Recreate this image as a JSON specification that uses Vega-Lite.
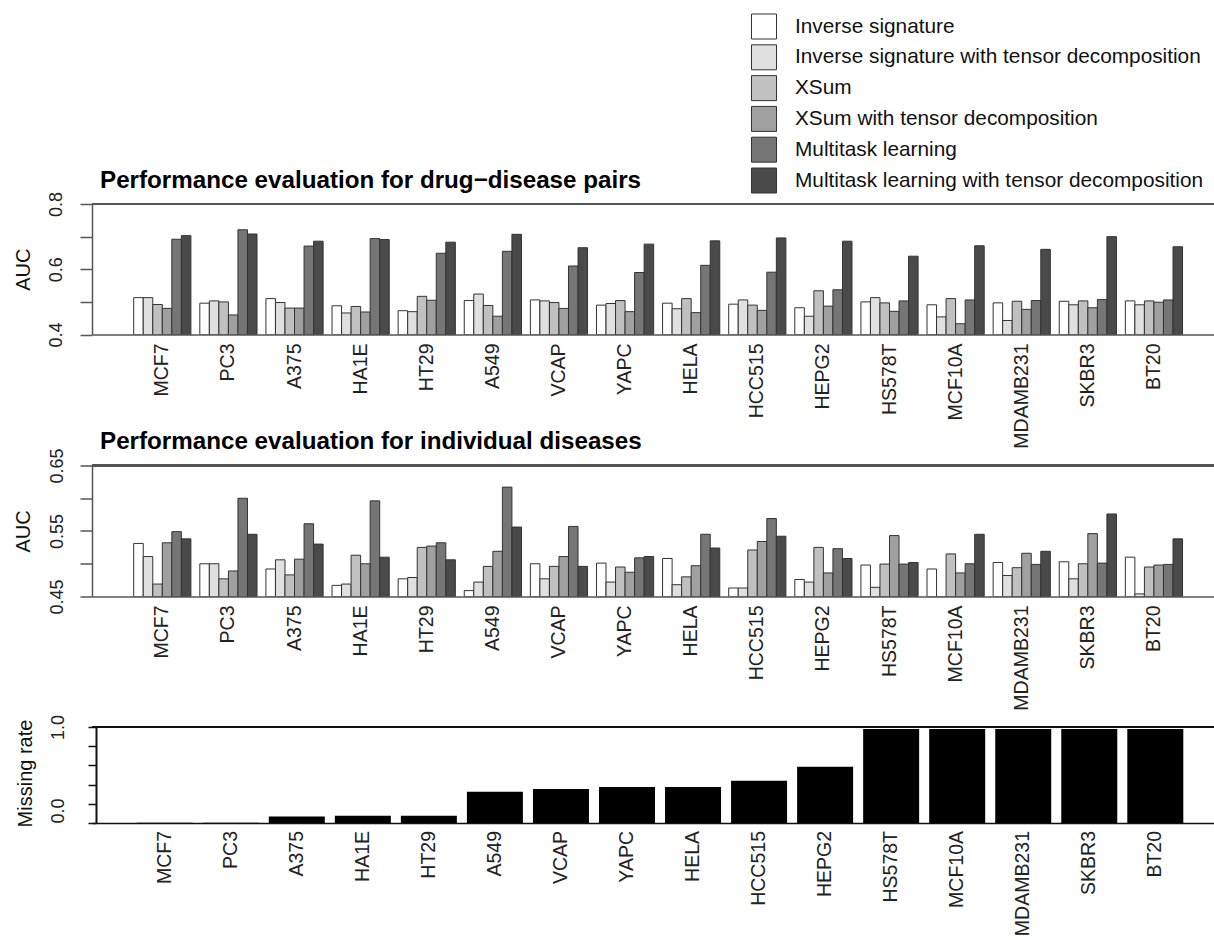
{
"$schema": "https://vega.github.io/schema/vega-lite/v6.json",
"padding": {"left": 13, "top": 13, "right": 0, "bottom": 0},
"bounds": "flush",
"spacing": 130.5,
"config": {"view": {"stroke": null}, "font": "Liberation Sans",
 "legend": {"orient": "none", "legendX": 659, "legendY": -190.5, "symbolType": "square", "symbolSize": 625, "symbolStrokeColor": "#333", "symbolStrokeWidth": 1, "symbolOpacity": 1, "labelFontSize": 20.8, "labelColor": "#111", "labelOffset": 18, "rowPadding": 0.8, "labelLimit": 0, "padding": 0}},
"resolve": {"scale": {"x": "independent", "y": "independent", "xOffset": "independent"}},
"datasets": {
"pairs": [
{"cell":"MCF7","method":"Inverse signature","auc":0.513},{"cell":"MCF7","method":"Inverse signature with tensor decomposition","auc":0.513},{"cell":"MCF7","method":"XSum","auc":0.492},{"cell":"MCF7","method":"XSum with tensor decomposition","auc":0.480},{"cell":"MCF7","method":"Multitask learning","auc":0.692},{"cell":"MCF7","method":"Multitask learning with tensor decomposition","auc":0.703},
{"cell":"PC3","method":"Inverse signature","auc":0.496},{"cell":"PC3","method":"Inverse signature with tensor decomposition","auc":0.503},{"cell":"PC3","method":"XSum","auc":0.500},{"cell":"PC3","method":"XSum with tensor decomposition","auc":0.460},{"cell":"PC3","method":"Multitask learning","auc":0.721},{"cell":"PC3","method":"Multitask learning with tensor decomposition","auc":0.708},
{"cell":"A375","method":"Inverse signature","auc":0.510},{"cell":"A375","method":"Inverse signature with tensor decomposition","auc":0.498},{"cell":"A375","method":"XSum","auc":0.481},{"cell":"A375","method":"XSum with tensor decomposition","auc":0.481},{"cell":"A375","method":"Multitask learning","auc":0.671},{"cell":"A375","method":"Multitask learning with tensor decomposition","auc":0.686},
{"cell":"HA1E","method":"Inverse signature","auc":0.488},{"cell":"HA1E","method":"Inverse signature with tensor decomposition","auc":0.466},{"cell":"HA1E","method":"XSum","auc":0.486},{"cell":"HA1E","method":"XSum with tensor decomposition","auc":0.469},{"cell":"HA1E","method":"Multitask learning","auc":0.694},{"cell":"HA1E","method":"Multitask learning with tensor decomposition","auc":0.691},
{"cell":"HT29","method":"Inverse signature","auc":0.473},{"cell":"HT29","method":"Inverse signature with tensor decomposition","auc":0.470},{"cell":"HT29","method":"XSum","auc":0.517},{"cell":"HT29","method":"XSum with tensor decomposition","auc":0.505},{"cell":"HT29","method":"Multitask learning","auc":0.649},{"cell":"HT29","method":"Multitask learning with tensor decomposition","auc":0.683},
{"cell":"A549","method":"Inverse signature","auc":0.504},{"cell":"A549","method":"Inverse signature with tensor decomposition","auc":0.524},{"cell":"A549","method":"XSum","auc":0.489},{"cell":"A549","method":"XSum with tensor decomposition","auc":0.456},{"cell":"A549","method":"Multitask learning","auc":0.655},{"cell":"A549","method":"Multitask learning with tensor decomposition","auc":0.707},
{"cell":"VCAP","method":"Inverse signature","auc":0.506},{"cell":"VCAP","method":"Inverse signature with tensor decomposition","auc":0.503},{"cell":"VCAP","method":"XSum","auc":0.498},{"cell":"VCAP","method":"XSum with tensor decomposition","auc":0.480},{"cell":"VCAP","method":"Multitask learning","auc":0.610},{"cell":"VCAP","method":"Multitask learning with tensor decomposition","auc":0.666},
{"cell":"YAPC","method":"Inverse signature","auc":0.490},{"cell":"YAPC","method":"Inverse signature with tensor decomposition","auc":0.495},{"cell":"YAPC","method":"XSum","auc":0.504},{"cell":"YAPC","method":"XSum with tensor decomposition","auc":0.470},{"cell":"YAPC","method":"Multitask learning","auc":0.590},{"cell":"YAPC","method":"Multitask learning with tensor decomposition","auc":0.677},
{"cell":"HELA","method":"Inverse signature","auc":0.496},{"cell":"HELA","method":"Inverse signature with tensor decomposition","auc":0.479},{"cell":"HELA","method":"XSum","auc":0.510},{"cell":"HELA","method":"XSum with tensor decomposition","auc":0.467},{"cell":"HELA","method":"Multitask learning","auc":0.612},{"cell":"HELA","method":"Multitask learning with tensor decomposition","auc":0.687},
{"cell":"HCC515","method":"Inverse signature","auc":0.493},{"cell":"HCC515","method":"Inverse signature with tensor decomposition","auc":0.506},{"cell":"HCC515","method":"XSum","auc":0.490},{"cell":"HCC515","method":"XSum with tensor decomposition","auc":0.474},{"cell":"HCC515","method":"Multitask learning","auc":0.591},{"cell":"HCC515","method":"Multitask learning with tensor decomposition","auc":0.696},
{"cell":"HEPG2","method":"Inverse signature","auc":0.482},{"cell":"HEPG2","method":"Inverse signature with tensor decomposition","auc":0.456},{"cell":"HEPG2","method":"XSum","auc":0.534},{"cell":"HEPG2","method":"XSum with tensor decomposition","auc":0.487},{"cell":"HEPG2","method":"Multitask learning","auc":0.537},{"cell":"HEPG2","method":"Multitask learning with tensor decomposition","auc":0.686},
{"cell":"HS578T","method":"Inverse signature","auc":0.500},{"cell":"HS578T","method":"Inverse signature with tensor decomposition","auc":0.513},{"cell":"HS578T","method":"XSum","auc":0.497},{"cell":"HS578T","method":"XSum with tensor decomposition","auc":0.471},{"cell":"HS578T","method":"Multitask learning","auc":0.503},{"cell":"HS578T","method":"Multitask learning with tensor decomposition","auc":0.640},
{"cell":"MCF10A","method":"Inverse signature","auc":0.491},{"cell":"MCF10A","method":"Inverse signature with tensor decomposition","auc":0.454},{"cell":"MCF10A","method":"XSum","auc":0.510},{"cell":"MCF10A","method":"XSum with tensor decomposition","auc":0.433},{"cell":"MCF10A","method":"Multitask learning","auc":0.506},{"cell":"MCF10A","method":"Multitask learning with tensor decomposition","auc":0.672},
{"cell":"MDAMB231","method":"Inverse signature","auc":0.497},{"cell":"MDAMB231","method":"Inverse signature with tensor decomposition","auc":0.443},{"cell":"MDAMB231","method":"XSum","auc":0.502},{"cell":"MDAMB231","method":"XSum with tensor decomposition","auc":0.477},{"cell":"MDAMB231","method":"Multitask learning","auc":0.504},{"cell":"MDAMB231","method":"Multitask learning with tensor decomposition","auc":0.661},
{"cell":"SKBR3","method":"Inverse signature","auc":0.502},{"cell":"SKBR3","method":"Inverse signature with tensor decomposition","auc":0.491},{"cell":"SKBR3","method":"XSum","auc":0.503},{"cell":"SKBR3","method":"XSum with tensor decomposition","auc":0.482},{"cell":"SKBR3","method":"Multitask learning","auc":0.507},{"cell":"SKBR3","method":"Multitask learning with tensor decomposition","auc":0.700},
{"cell":"BT20","method":"Inverse signature","auc":0.503},{"cell":"BT20","method":"Inverse signature with tensor decomposition","auc":0.491},{"cell":"BT20","method":"XSum","auc":0.503},{"cell":"BT20","method":"XSum with tensor decomposition","auc":0.499},{"cell":"BT20","method":"Multitask learning","auc":0.506},{"cell":"BT20","method":"Multitask learning with tensor decomposition","auc":0.669}
],
"diseases": [
{"cell":"MCF7","method":"Inverse signature","auc":0.531},{"cell":"MCF7","method":"Inverse signature with tensor decomposition","auc":0.511},{"cell":"MCF7","method":"XSum","auc":0.469},{"cell":"MCF7","method":"XSum with tensor decomposition","auc":0.532},{"cell":"MCF7","method":"Multitask learning","auc":0.549},{"cell":"MCF7","method":"Multitask learning with tensor decomposition","auc":0.538},
{"cell":"PC3","method":"Inverse signature","auc":0.500},{"cell":"PC3","method":"Inverse signature with tensor decomposition","auc":0.500},{"cell":"PC3","method":"XSum","auc":0.477},{"cell":"PC3","method":"XSum with tensor decomposition","auc":0.489},{"cell":"PC3","method":"Multitask learning","auc":0.600},{"cell":"PC3","method":"Multitask learning with tensor decomposition","auc":0.545},
{"cell":"A375","method":"Inverse signature","auc":0.492},{"cell":"A375","method":"Inverse signature with tensor decomposition","auc":0.506},{"cell":"A375","method":"XSum","auc":0.483},{"cell":"A375","method":"XSum with tensor decomposition","auc":0.507},{"cell":"A375","method":"Multitask learning","auc":0.561},{"cell":"A375","method":"Multitask learning with tensor decomposition","auc":0.530},
{"cell":"HA1E","method":"Inverse signature","auc":0.467},{"cell":"HA1E","method":"Inverse signature with tensor decomposition","auc":0.469},{"cell":"HA1E","method":"XSum","auc":0.513},{"cell":"HA1E","method":"XSum with tensor decomposition","auc":0.500},{"cell":"HA1E","method":"Multitask learning","auc":0.596},{"cell":"HA1E","method":"Multitask learning with tensor decomposition","auc":0.510},
{"cell":"HT29","method":"Inverse signature","auc":0.477},{"cell":"HT29","method":"Inverse signature with tensor decomposition","auc":0.479},{"cell":"HT29","method":"XSum","auc":0.525},{"cell":"HT29","method":"XSum with tensor decomposition","auc":0.527},{"cell":"HT29","method":"Multitask learning","auc":0.532},{"cell":"HT29","method":"Multitask learning with tensor decomposition","auc":0.506},
{"cell":"A549","method":"Inverse signature","auc":0.459},{"cell":"A549","method":"Inverse signature with tensor decomposition","auc":0.472},{"cell":"A549","method":"XSum","auc":0.496},{"cell":"A549","method":"XSum with tensor decomposition","auc":0.519},{"cell":"A549","method":"Multitask learning","auc":0.617},{"cell":"A549","method":"Multitask learning with tensor decomposition","auc":0.556},
{"cell":"VCAP","method":"Inverse signature","auc":0.500},{"cell":"VCAP","method":"Inverse signature with tensor decomposition","auc":0.477},{"cell":"VCAP","method":"XSum","auc":0.496},{"cell":"VCAP","method":"XSum with tensor decomposition","auc":0.511},{"cell":"VCAP","method":"Multitask learning","auc":0.557},{"cell":"VCAP","method":"Multitask learning with tensor decomposition","auc":0.496},
{"cell":"YAPC","method":"Inverse signature","auc":0.501},{"cell":"YAPC","method":"Inverse signature with tensor decomposition","auc":0.472},{"cell":"YAPC","method":"XSum","auc":0.495},{"cell":"YAPC","method":"XSum with tensor decomposition","auc":0.487},{"cell":"YAPC","method":"Multitask learning","auc":0.509},{"cell":"YAPC","method":"Multitask learning with tensor decomposition","auc":0.511},
{"cell":"HELA","method":"Inverse signature","auc":0.508},{"cell":"HELA","method":"Inverse signature with tensor decomposition","auc":0.468},{"cell":"HELA","method":"XSum","auc":0.480},{"cell":"HELA","method":"XSum with tensor decomposition","auc":0.497},{"cell":"HELA","method":"Multitask learning","auc":0.545},{"cell":"HELA","method":"Multitask learning with tensor decomposition","auc":0.524},
{"cell":"HCC515","method":"Inverse signature","auc":0.463},{"cell":"HCC515","method":"Inverse signature with tensor decomposition","auc":0.463},{"cell":"HCC515","method":"XSum","auc":0.521},{"cell":"HCC515","method":"XSum with tensor decomposition","auc":0.534},{"cell":"HCC515","method":"Multitask learning","auc":0.569},{"cell":"HCC515","method":"Multitask learning with tensor decomposition","auc":0.542},
{"cell":"HEPG2","method":"Inverse signature","auc":0.476},{"cell":"HEPG2","method":"Inverse signature with tensor decomposition","auc":0.472},{"cell":"HEPG2","method":"XSum","auc":0.525},{"cell":"HEPG2","method":"XSum with tensor decomposition","auc":0.486},{"cell":"HEPG2","method":"Multitask learning","auc":0.523},{"cell":"HEPG2","method":"Multitask learning with tensor decomposition","auc":0.508},
{"cell":"HS578T","method":"Inverse signature","auc":0.498},{"cell":"HS578T","method":"Inverse signature with tensor decomposition","auc":0.464},{"cell":"HS578T","method":"XSum","auc":0.4995},{"cell":"HS578T","method":"XSum with tensor decomposition","auc":0.543},{"cell":"HS578T","method":"Multitask learning","auc":0.4995},{"cell":"HS578T","method":"Multitask learning with tensor decomposition","auc":0.502},
{"cell":"MCF10A","method":"Inverse signature","auc":0.492},{"cell":"MCF10A","method":"Inverse signature with tensor decomposition","auc":0.445},{"cell":"MCF10A","method":"XSum","auc":0.515},{"cell":"MCF10A","method":"XSum with tensor decomposition","auc":0.486},{"cell":"MCF10A","method":"Multitask learning","auc":0.500},{"cell":"MCF10A","method":"Multitask learning with tensor decomposition","auc":0.545},
{"cell":"MDAMB231","method":"Inverse signature","auc":0.502},{"cell":"MDAMB231","method":"Inverse signature with tensor decomposition","auc":0.482},{"cell":"MDAMB231","method":"XSum","auc":0.494},{"cell":"MDAMB231","method":"XSum with tensor decomposition","auc":0.516},{"cell":"MDAMB231","method":"Multitask learning","auc":0.499},{"cell":"MDAMB231","method":"Multitask learning with tensor decomposition","auc":0.519},
{"cell":"SKBR3","method":"Inverse signature","auc":0.503},{"cell":"SKBR3","method":"Inverse signature with tensor decomposition","auc":0.477},{"cell":"SKBR3","method":"XSum","auc":0.500},{"cell":"SKBR3","method":"XSum with tensor decomposition","auc":0.546},{"cell":"SKBR3","method":"Multitask learning","auc":0.501},{"cell":"SKBR3","method":"Multitask learning with tensor decomposition","auc":0.576},
{"cell":"BT20","method":"Inverse signature","auc":0.510},{"cell":"BT20","method":"Inverse signature with tensor decomposition","auc":0.454},{"cell":"BT20","method":"XSum","auc":0.495},{"cell":"BT20","method":"XSum with tensor decomposition","auc":0.498},{"cell":"BT20","method":"Multitask learning","auc":0.499},{"cell":"BT20","method":"Multitask learning with tensor decomposition","auc":0.538}
],
"missing": [
{"cell":"MCF7","rate":0.003},{"cell":"PC3","rate":0.003},{"cell":"A375","rate":0.069},{"cell":"HA1E","rate":0.076},{"cell":"HT29","rate":0.076},{"cell":"A549","rate":0.326},{"cell":"VCAP","rate":0.354},{"cell":"YAPC","rate":0.375},{"cell":"HELA","rate":0.375},{"cell":"HCC515","rate":0.441},{"cell":"HEPG2","rate":0.587},{"cell":"HS578T","rate":0.979},{"cell":"MCF10A","rate":0.979},{"cell":"MDAMB231","rate":0.979},{"cell":"SKBR3","rate":0.979},{"cell":"BT20","rate":0.979}
]
},
"vconcat": [
{
 "width": 1122, "height": 130.5,
 "title": {"text": "Performance evaluation for drug\u2212disease pairs", "anchor": "start", "frame": "group", "fontSize": 24.2, "fontWeight": "bold", "color": "#000", "dx": 8, "offset": -21, "baseline": "alphabetic"},
 "data": {"name": "pairs"},
 "layer": [
  {"mark": {"type": "bar", "stroke": "#333", "strokeWidth": 1, "clip": true},
   "encoding": {
    "x": {"field": "cell", "type": "nominal", "sort": ["MCF7","PC3","A375","HA1E","HT29","A549","VCAP","YAPC","HELA","HCC515","HEPG2","HS578T","MCF10A","MDAMB231","SKBR3","BT20"], "scale": {"paddingInner": 0.135, "paddingOuter": 0.5535, "align": 0.57},
     "axis": {"title": null, "labelAngle": -90, "labelFontSize": 19.5, "labelColor": "#222", "ticks": false, "tickSize": 0, "labelPadding": 8.5, "domainColor": "#555", "domainWidth": 1.5, "labelLimit": 0, "labelOverlap": false}},
    "xOffset": {"field": "method", "type": "nominal", "sort": ["Inverse signature","Inverse signature with tensor decomposition","XSum","XSum with tensor decomposition","Multitask learning","Multitask learning with tensor decomposition"], "scale": {"paddingInner": 0, "paddingOuter": 0}},
    "y": {"field": "auc", "type": "quantitative", "scale": {"domain": [0.4, 0.8], "nice": false, "zero": false},
     "axis": {"title": "AUC", "titleFontSize": 20, "titleFontWeight": "normal", "titleColor": "#111", "titleAngle": -90, "titleX": -69, "titleY": 65.25, "titleAlign": "center", "titleBaseline": "middle", "values": [0.4, 0.5, 0.6, 0.7, 0.8], "tickCount": 20, "labelExpr": "indexof(['0.4','0.6','0.8'], format(datum.value, '.1f')) >= 0 ? format(datum.value, '.1f') : ''", "labelAngle": -90, "labelAlign": "center", "labelBaseline": "middle", "labelFontSize": 18, "labelColor": "#222", "labelPadding": 24, "labelOverlap": false, "labelFlush": false, "labelBound": false, "tickSize": 12, "tickColor": "#555", "tickWidth": 1.5, "domainColor": "#555", "domainWidth": 1.5, "grid": false}},
    "y2": {"datum": 0.4},
    "fill": {"field": "method", "type": "nominal", "sort": ["Inverse signature","Inverse signature with tensor decomposition","XSum","XSum with tensor decomposition","Multitask learning","Multitask learning with tensor decomposition"], "scale": {"domain": ["Inverse signature","Inverse signature with tensor decomposition","XSum","XSum with tensor decomposition","Multitask learning","Multitask learning with tensor decomposition"], "range": ["#ffffff","#e0e0e0","#c0c0c0","#a0a0a0","#767676","#4a4a4a"]}, "legend": {"title": null}}
   }},
  {"mark": {"type": "rule", "color": "#555", "strokeWidth": 1.5}, "encoding": {"y": {"datum": 0.8}}}
 ]
},
{
 "width": 1122, "height": 131,
 "title": {"text": "Performance evaluation for individual diseases", "anchor": "start", "frame": "group", "fontSize": 24.2, "fontWeight": "bold", "color": "#000", "dx": 8, "offset": -25, "baseline": "alphabetic"},
 "data": {"name": "diseases"},
 "layer": [
  {"mark": {"type": "bar", "stroke": "#333", "strokeWidth": 1, "clip": true},
   "encoding": {
    "x": {"field": "cell", "type": "nominal", "sort": ["MCF7","PC3","A375","HA1E","HT29","A549","VCAP","YAPC","HELA","HCC515","HEPG2","HS578T","MCF10A","MDAMB231","SKBR3","BT20"], "scale": {"paddingInner": 0.135, "paddingOuter": 0.5535, "align": 0.57},
     "axis": {"title": null, "labelAngle": -90, "labelFontSize": 19.5, "labelColor": "#222", "ticks": false, "tickSize": 0, "labelPadding": 8.5, "domainColor": "#555", "domainWidth": 1.5, "labelLimit": 0, "labelOverlap": false}},
    "xOffset": {"field": "method", "type": "nominal", "sort": ["Inverse signature","Inverse signature with tensor decomposition","XSum","XSum with tensor decomposition","Multitask learning","Multitask learning with tensor decomposition"], "scale": {"paddingInner": 0, "paddingOuter": 0}},
    "y": {"field": "auc", "type": "quantitative", "scale": {"domain": [0.45, 0.65], "nice": false, "zero": false},
     "axis": {"title": "AUC", "titleFontSize": 20, "titleFontWeight": "normal", "titleColor": "#111", "titleAngle": -90, "titleX": -69, "titleY": 65.5, "titleAlign": "center", "titleBaseline": "middle", "values": [0.45, 0.5, 0.55, 0.6, 0.65], "tickCount": 20, "labelExpr": "indexof(['0.45','0.55','0.65'], format(datum.value, '.2f')) >= 0 ? format(datum.value, '.2f') : ''", "labelAngle": -90, "labelAlign": "center", "labelBaseline": "middle", "labelFontSize": 18, "labelColor": "#222", "labelPadding": 23, "labelOverlap": false, "labelFlush": false, "labelBound": false, "tickSize": 12, "tickColor": "#555", "tickWidth": 1.5, "domainColor": "#555", "domainWidth": 1.5, "grid": false}},
    "y2": {"datum": 0.45},
    "fill": {"field": "method", "type": "nominal", "sort": ["Inverse signature","Inverse signature with tensor decomposition","XSum","XSum with tensor decomposition","Multitask learning","Multitask learning with tensor decomposition"], "scale": {"domain": ["Inverse signature","Inverse signature with tensor decomposition","XSum","XSum with tensor decomposition","Multitask learning","Multitask learning with tensor decomposition"], "range": ["#ffffff","#e0e0e0","#c0c0c0","#a0a0a0","#767676","#4a4a4a"]}, "legend": {"title": null}}
   }},
  {"mark": {"type": "rule", "color": "#555", "strokeWidth": 1.5}, "encoding": {"y": {"datum": 0.65}}}
 ]
},
{
 "width": 1122, "height": 96,
 "data": {"name": "missing"},
 "layer": [
  {"mark": {"type": "bar", "color": "#000", "clip": true},
   "encoding": {
    "x": {"field": "cell", "type": "nominal", "sort": ["MCF7","PC3","A375","HA1E","HT29","A549","VCAP","YAPC","HELA","HCC515","HEPG2","HS578T","MCF10A","MDAMB231","SKBR3","BT20"], "scale": {"paddingInner": 0.152, "paddingOuter": 0.571, "align": 0.593},
     "axis": {"title": null, "labelAngle": -90, "labelFontSize": 19.5, "labelColor": "#222", "ticks": false, "tickSize": 0, "labelPadding": 7.5, "domainColor": "#111", "domainWidth": 1.5, "labelLimit": 0, "labelOverlap": false}},
    "y": {"field": "rate", "type": "quantitative", "scale": {"domain": [0, 1], "nice": false, "zero": false},
     "axis": {"title": "Missing rate", "offset": -4, "titleFontSize": 20, "titleFontWeight": "normal", "titleColor": "#111", "titleAngle": -90, "titleX": -71, "titleY": 46, "titleAlign": "center", "titleBaseline": "middle", "values": [0, 0.2, 0.4, 0.6, 0.8, 1], "tickCount": 20, "labelExpr": "datum.value < 0.05 ? '0.0' : (datum.value > 0.95 ? '1.0' : '')", "labelAngle": -90, "labelAlign": {"condition": {"test": "datum.value < 0.05", "value": "left"}, "value": "center"}, "labelBaseline": "middle", "labelFontSize": 18, "labelColor": "#222", "labelPadding": 30, "labelOverlap": false, "labelFlush": false, "labelBound": false, "tickSize": 8, "tickColor": "#111", "tickWidth": 1.5, "domainColor": "#111", "domainWidth": 2, "grid": false}}
   }},
  {"mark": {"type": "rule", "color": "#111", "strokeWidth": 1.5}, "encoding": {"y": {"datum": 1}}}
 ]
}
]
}
